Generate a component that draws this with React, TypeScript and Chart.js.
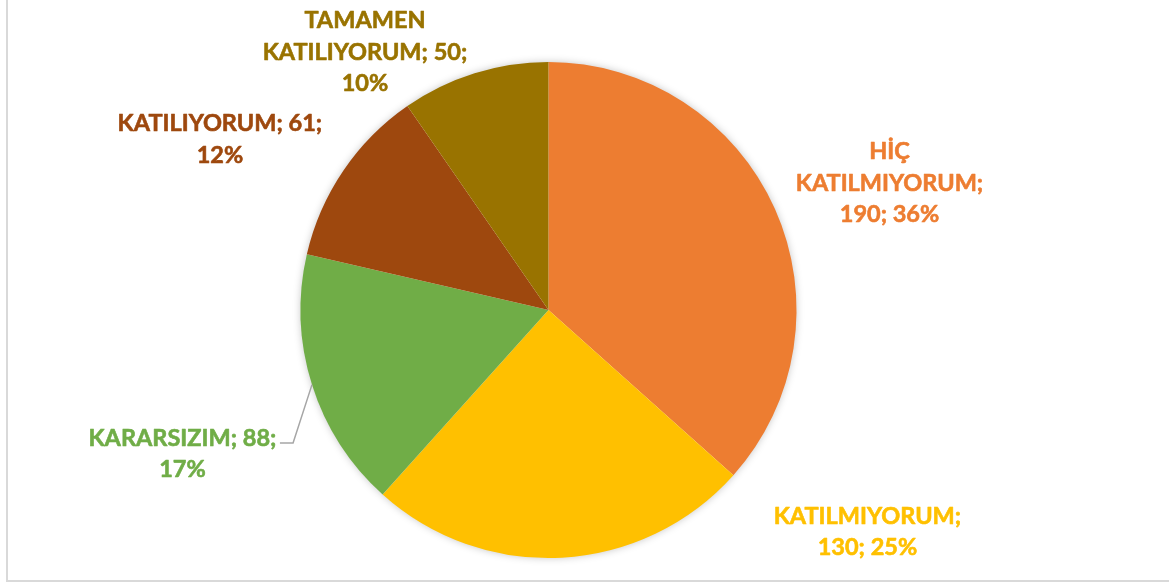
import React, { useEffect, useRef } from "react";
import { Chart, registerables } from "chart.js";

Chart.register(...registerables);

const categories = ["HİÇ KATILMIYORUM", "KATILMIYORUM", "KARARSIZIM", "KATILIYORUM", "TAMAMEN KATILIYORUM"];
const values = [190, 130, 88, 61, 50];
const percentLabels = ["36%", "25%", "17%", "12%", "10%"];
const colors = ["#ED7D31", "#FFC000", "#70AD47", "#9E480E", "#997300"];

// how many words go on each line of each data label
const lineWordCounts = [[1, 1, 2], [1, 2], [2, 1], [2, 1], [1, 2, 1]];
// label block centre, in units of the pie radius, relative to the pie centre
const labelAnchors = [
  [1.375, -0.512],
  [1.286, 0.895],
  [-1.476, 0.581],
  [-1.325, -0.688],
  [-0.74, -1.04],
];
// leader line: [index, elbow, end] in radius units
const leaders = [{ index: 2, elbow: [-1.03, 0.536], end: [-1.083, 0.536] }];

const FONT = "bold 23.5px Lato";
const LINE_H = 31.5;

function buildLines(i: number): string[] {
  const words = `${categories[i]}; ${values[i]}; ${percentLabels[i]}`.split(" ");
  const out: string[] = [];
  let k = 0;
  for (const n of lineWordCounts[i]) {
    out.push(words.slice(k, k + n).join(" "));
    k += n;
  }
  return out;
}

const framePlugin = {
  id: "frame",
  beforeDraw(chart: any) {
    const ctx = chart.ctx;
    ctx.save();
    ctx.strokeStyle = "#D9D9D9";
    ctx.lineWidth = 2;
    ctx.beginPath();
    ctx.moveTo(7, 0);
    ctx.lineTo(7, 581);
    ctx.lineTo(chart.width, 581);
    ctx.stroke();
    ctx.restore();
  },
};

const shadowPlugin = {
  id: "pieShadow",
  beforeDatasetsDraw(chart: any) {
    const arc = chart.getDatasetMeta(0).data[0];
    if (!arc) return;
    const ctx = chart.ctx;
    ctx.save();
    ctx.shadowColor = "rgba(0,0,0,0.28)";
    ctx.shadowBlur = 9;
    ctx.fillStyle = "#ffffff";
    ctx.beginPath();
    ctx.arc(arc.x, arc.y, arc.outerRadius - 1, 0, Math.PI * 2);
    ctx.fill();
    ctx.restore();
  },
};

const labelPlugin = {
  id: "outsideLabels",
  afterDatasetsDraw(chart: any) {
    const meta = chart.getDatasetMeta(0);
    const first = meta.data[0];
    if (!first) return;
    const cx = first.x;
    const cy = first.y;
    const r = first.outerRadius;
    const ctx = chart.ctx;
    ctx.save();
    // leader lines
    ctx.strokeStyle = "#A6A6A6";
    ctx.lineWidth = 1.5;
    for (const l of leaders) {
      const a = meta.data[l.index];
      const mid = (a.startAngle + a.endAngle) / 2;
      ctx.beginPath();
      ctx.moveTo(cx + Math.cos(mid) * r, cy + Math.sin(mid) * r);
      ctx.lineTo(cx + l.elbow[0] * r, cy + l.elbow[1] * r);
      ctx.lineTo(cx + l.end[0] * r, cy + l.end[1] * r);
      ctx.stroke();
    }
    ctx.font = FONT;
    ctx.textAlign = "center";
    ctx.textBaseline = "middle";
    ctx.lineWidth = 0.6;
    ctx.lineJoin = "round";
    for (let i = 0; i < values.length; i++) {
      const lines = buildLines(i);
      const lx = cx + labelAnchors[i][0] * r;
      const ly = cy + labelAnchors[i][1] * r;
      ctx.fillStyle = colors[i];
      ctx.strokeStyle = colors[i];
      const top = ly - ((lines.length - 1) * LINE_H) / 2;
      lines.forEach((t, j) => {
        ctx.fillText(t, lx, top + j * LINE_H);
        ctx.strokeText(t, lx, top + j * LINE_H);
      });
    }
    ctx.restore();
  },
};

export default function App() {
  const ref = useRef<HTMLCanvasElement | null>(null);
  useEffect(() => {
    if (!ref.current) return;
    const chart = new Chart(ref.current, {
      type: "pie",
      data: {
        labels: categories,
        datasets: [
          {
            data: values,
            backgroundColor: colors,
            borderWidth: 0,
          },
        ],
      },
      options: {
        responsive: false,
        animation: false,
        layout: { padding: { left: 300, right: 372, top: 62, bottom: 26 } },
        plugins: {
          legend: { display: false },
          title: { display: false },
          tooltip: { enabled: false },
        },
      },
      plugins: [framePlugin, shadowPlugin, labelPlugin],
    });
    return () => chart.destroy();
  }, []);
  return (
    <div style={{ position: "absolute", left: 0, top: 0, width: 1169, height: 584, background: "#fff" }}>
      <canvas ref={ref} width={1169} height={584} style={{ display: "block" }} />
    </div>
  );
}
